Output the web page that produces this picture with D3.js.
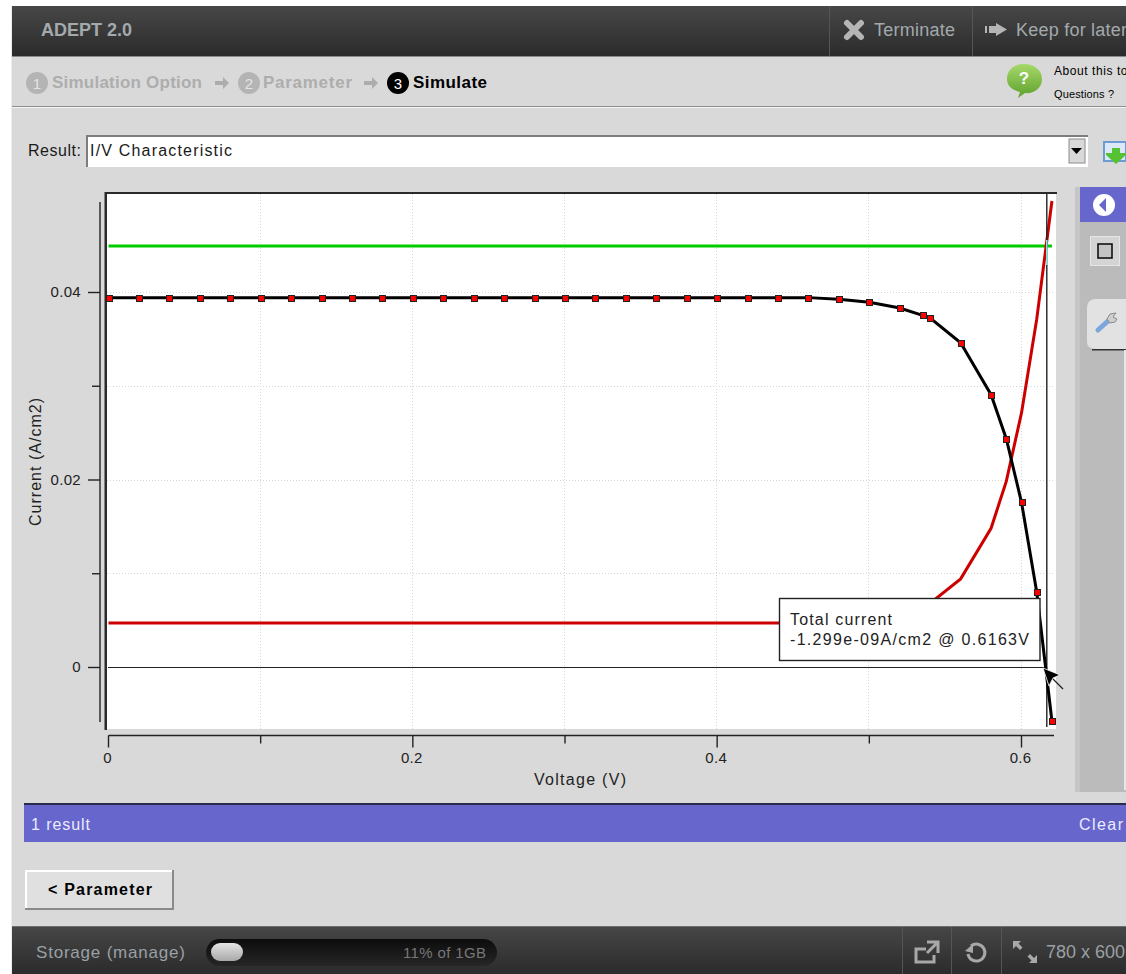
<!DOCTYPE html>
<html>
<head>
<meta charset="utf-8">
<script src="https://d3js.org/d3.v7.min.js"></script>
<style>
  html, body { margin: 0; padding: 0; background: white; }
  svg { display: block; }
  text { font-family: "Liberation Sans", Arial, sans-serif; }
</style>
</head>
<body>
<svg width="1126" height="974"></svg>
<script>
// values
var voltage = [0, 0.02, 0.04, 0.06, 0.08, 0.1, 0.12, 0.14, 0.16, 0.18, 0.2, 0.22, 0.24, 0.26, 0.28, 0.3,
  0.32, 0.34, 0.36, 0.38, 0.4, 0.42, 0.44, 0.46, 0.48, 0.5, 0.52, 0.535, 0.54, 0.56, 0.58, 0.59, 0.6, 0.61, 0.62];
var totalCurrent = [0.0394, 0.0394, 0.0394, 0.0394, 0.0394, 0.0394, 0.0394, 0.0394, 0.0394, 0.0394, 0.0394, 0.0394,
  0.0394, 0.0394, 0.0394, 0.0394, 0.0394, 0.0394, 0.0394, 0.0394, 0.0394, 0.0394, 0.0394, 0.0394, 0.03922, 0.0389,
  0.03829, 0.03751, 0.03723, 0.03459, 0.02905, 0.02435, 0.01757, 0.008, -0.00576];
var recombV = [0, 0.46, 0.5, 0.52, 0.54, 0.56, 0.58, 0.59, 0.6, 0.61, 0.62];
var recombI = [0.0047, 0.0047, 0.0050, 0.0055, 0.0068, 0.0094, 0.0148, 0.0198, 0.0271, 0.0371, 0.0497];
var generationV = [0, 0.62];
var generationI = [0.0449, 0.0449];
var xMajor = [0, 0.2, 0.4, 0.6];
var xMinor = [0.1, 0.3, 0.5];
var yMajor = [0, 0.02, 0.04];
var yMinor = [0.01, 0.03];
var cursorV = 0.6163;
var tipLines = ["Total current", "-1.299e-09A/cm2 @ 0.6163V"];
var steps = ["Simulation Option", "Parameter", "Simulate"];

var svg = d3.select("svg");
var x = d3.scaleLinear().domain([0, 0.6]).range([108.5, 1021.5]);
var y = d3.scaleLinear().domain([0, 0.04]).range([667, 292]);

var defs = svg.append("defs");
function gradient(id, top, bottom) {
  var g = defs.append("linearGradient").attr("id", id).attr("x1", 0).attr("y1", 0).attr("x2", 0).attr("y2", 1);
  g.append("stop").attr("offset", 0).attr("stop-color", top);
  g.append("stop").attr("offset", 1).attr("stop-color", bottom);
}
gradient("bar", "#474747", "#2b2b2b");
gradient("pill", "#0c0c0c", "#262626");
gradient("knob", "#e4e4e4", "#a8a8a8");
gradient("bubble", "#a6d96a", "#5ea02c");

function rect(x0, y0, w, h, fill) {
  return svg.append("rect").attr("x", x0).attr("y", y0).attr("width", w).attr("height", h).attr("fill", fill);
}
function label(s, x0, y0, size, fill, weight) {
  return svg.append("text").attr("x", x0).attr("y", y0).style("font-size", size + "px")
    .attr("fill", fill).attr("font-weight", weight || "normal").text(s);
}
function line(x1, y1, x2, y2, color, w) {
  return svg.append("line").attr("x1", x1).attr("y1", y1).attr("x2", x2).attr("y2", y2)
    .attr("stroke", color).attr("stroke-width", w);
}

// page
rect(11, 6, 1115, 968, "#d9d9d9");
rect(11, 6, 1, 968, "#ececec");

// top bar
rect(12, 6, 1114, 50, "url(#bar)");
rect(12, 56, 1114, 1, "#8a8a8a");
label("ADEPT 2.0", 41, 36, 18, "#a3a9ad", "bold");
line(829.5, 6, 829.5, 56, "#555", 1);
line(972.5, 6, 972.5, 56, "#555", 1);
svg.append("path").attr("d", "M846,24 L860,38 M860,24 L846,38 M846,24").attr("transform", "translate(1,-1)")
  .attr("stroke", "#b5b5b5").attr("stroke-width", 6).attr("stroke-linecap", "round");
label("Terminate", 874, 36, 18, "#a3a9ad").attr("textLength", 81);
svg.append("path").attr("d", "M985,26 h2 v7 h-2 z M989,26 h7 v-3 l11,6.5 l-11,6.5 v-3 h-7 z").attr("fill", "#b5b5b5");
label("Keep for later", 1016, 36, 18, "#a3a9ad").attr("textLength", 111);

// step bar
var stepX = [37, 249, 398];
var stepText = [52, 263, 413];
steps.forEach(function(s, i) {
  var on = i == 2;
  svg.append("circle").attr("cx", stepX[i]).attr("cy", 83).attr("r", 11).attr("fill", on ? "#000" : "#b4b4b4");
  label(i + 1, stepX[i], 88.5, 15, on ? "#fff" : "#e4e4e4").attr("text-anchor", "middle");
  label(s, stepText[i], 88, 17, on ? "#000" : "#adadad", "bold").attr("textLength", [150, 89, 74][i]);
});
[222, 371].forEach(function(a) {
  svg.append("path").attr("d", "M" + (a - 7) + ",81 h8 v-4 l6,6 l-6,6 v-4 h-8 z").attr("fill", "#adadad");
});
svg.append("path").attr("d", "M1007,79 C1007,69 1015,64 1024,64 C1034,64 1042,70 1042,79 C1042,89 1033,94 1025,93 L1018,98 L1020,92 C1012,90 1007,86 1007,79 Z")
  .attr("fill", "url(#bubble)");
label("?", 1024, 84, 17, "#fff", "bold").attr("text-anchor", "middle");
label("About this tool", 1054, 75, 12, "#000").attr("textLength", 84);
label("Questions ?", 1054, 98, 11, "#000").attr("textLength", 60);
rect(12, 106, 1114, 1, "#8f8f8f");
rect(12, 107, 1114, 1, "#f4f4f4");

// result selector
label("Result:", 28, 156, 16, "#1a1a1a").attr("textLength", 53);
rect(86, 135, 1002, 32, "#fff");
rect(86, 135, 1002, 2, "#7d7d7d");
rect(86, 135, 2, 32, "#7d7d7d");
label("I/V Characteristic", 90, 156, 16, "#1a1a1a").attr("textLength", 142);
rect(1069, 139, 16, 24, "#d9d9d9").attr("stroke", "#8c8c8c").attr("stroke-width", 1);
svg.append("path").attr("d", "M1071,148 h11 l-5.5,6 z").attr("fill", "#000");
rect(1104, 142, 22, 19, "#dbe8f8").attr("stroke", "#6d9bd3").attr("stroke-width", 2);
svg.append("path").attr("d", "M1112,148 h8 v5 h6 v2 l-10,9 l-10,-9 v-2 h6 z").attr("fill", "#55c234");

// plot area
rect(106, 194, 950, 535, "#fff");

var grid = svg.append("g").attr("stroke", "#d6d6d6").attr("stroke-width", 1).attr("stroke-dasharray", "1,2");
grid.selectAll("line.v").data(xMajor.concat(xMinor).filter(function(d) { return d > 0; })).enter().append("line")
  .attr("x1", function(d) { return Math.round(x(d)) - 0.5; })
  .attr("x2", function(d) { return Math.round(x(d)) - 0.5; })
  .attr("y1", 194).attr("y2", 729);
grid.selectAll("line.h").data(yMajor.concat(yMinor).filter(function(d) { return d > 0; })).enter().append("line")
  .attr("x1", 107).attr("x2", 1055)
  .attr("y1", function(d) { return Math.round(y(d)) + 0.5; })
  .attr("y2", function(d) { return Math.round(y(d)) + 0.5; });

rect(105, 192, 952, 2, "#2a2a2a");
rect(104.5, 192, 2.5, 538, "#2a2a2a");

// axes
var xAxisMajor = svg.append("g").attr("transform", "translate(0,735.5)")
  .call(d3.axisBottom(x).offset(0).tickValues(xMajor).tickSize(12).tickPadding(5).tickFormat(d3.format("~g")));
var xAxisMinor = svg.append("g").attr("transform", "translate(0,735.5)")
  .call(d3.axisBottom(x).offset(0).tickValues(xMinor).tickSize(8).tickFormat(""));
var yAxisMajor = svg.append("g").attr("transform", "translate(100,0)")
  .call(d3.axisLeft(y).tickValues(yMajor).tickSize(12).tickPadding(7).tickFormat(d3.format("~g")));
var yAxisMinor = svg.append("g").attr("transform", "translate(100,0)")
  .call(d3.axisLeft(y).tickValues(yMinor).tickSize(8).tickFormat(""));
xAxisMajor.select(".domain").attr("d", "M108.5,0 H1054");
xAxisMinor.select(".domain").remove();
yAxisMajor.select(".domain").attr("d", "M0,202 V722");
yAxisMinor.select(".domain").remove();
svg.selectAll("g .domain, g .tick line").attr("stroke", "#222").attr("stroke-width", 1.4);
svg.selectAll("g .tick text").style("font-size", "15px").attr("fill", "#222")
  .style("letter-spacing", "0.3px")
  .style("font-family", '"Liberation Sans", Arial, sans-serif');
xAxisMajor.selectAll(".tick text").attr("dx", -1);

label("Voltage (V)", 580, 785, 16, "#222").attr("text-anchor", "middle").attr("textLength", 92);
svg.append("text").attr("transform", "translate(41,462) rotate(-90)").attr("text-anchor", "middle")
  .style("font-size", "16px").attr("fill", "#222").attr("textLength", 128).text("Current (A/cm2)");

// curves
var lineGen = d3.line().x(function(d) { return x(d[0]); }).y(function(d) { return y(d[1]); });
svg.append("path").datum(d3.zip(generationV, generationI)).attr("d", lineGen)
  .attr("fill", "none").attr("stroke", "#00cc00").attr("stroke-width", 3);
svg.append("path").datum(d3.zip(recombV, recombI)).attr("d", lineGen)
  .attr("fill", "none").attr("stroke", "#cc0000").attr("stroke-width", 3);

// crosshair
line(108, y(0) + 0.5, x(cursorV) + 0.5, y(0) + 0.5, "#222", 1.2);
line(x(cursorV) + 0.5, 194, x(cursorV) + 0.5, 727, "#222", 1.4);
line(x(cursorV) + 0.5, y(0.0449) - 6, x(cursorV) + 0.5, y(0.0449) + 19, "#8ff", 1.4);

svg.append("path").datum(d3.zip(voltage, totalCurrent)).attr("d", lineGen)
  .attr("fill", "none").attr("stroke", "#000").attr("stroke-width", 3);
svg.selectAll("rect.pt").data(d3.zip(voltage, totalCurrent)).enter().append("rect").attr("class", "pt")
  .attr("x", function(d) { return Math.round(x(d[0])) - 2.5; })
  .attr("y", function(d) { return Math.round(y(d[1])) - 2.5; })
  .attr("width", 6).attr("height", 6)
  .attr("fill", "#f00").attr("stroke", "#222").attr("stroke-width", 1);

// tooltip
rect(779.5, 598.5, 260.5, 62, "#fff").attr("stroke", "#222").attr("stroke-width", 1.4);
tipLines.forEach(function(t, i) {
  label(t, 790, 625 + i * 20, 16, "#222").attr("textLength", [102, 239][i]);
});

// mouse pointer
line(1051, 677, 1063, 689, "#222", 1.2);
svg.append("path").attr("d", "M1043,668 L1060,675 L1053,678 L1049,686 Z").attr("fill", "#000")
  .attr("stroke", "#fff").attr("stroke-width", 0.8);

// right panel
rect(1075, 187, 5, 605, "#c6c6c6");
rect(1080, 187, 46, 605, "#bbb");
rect(1080, 187, 46, 35, "#6666cc");
svg.append("circle").attr("cx", 1104).attr("cy", 205).attr("r", 11).attr("fill", "#fff");
svg.append("path").attr("d", "M1099,205 l7,-7 v14 z").attr("fill", "#6666cc");
rect(1090.5, 236.5, 29, 29, "#d4d4d4").attr("stroke", "#e6e6e6");
rect(1098, 244, 14, 14, "#c4c4c4").attr("stroke", "#111").attr("stroke-width", 1.6);
svg.append("path").attr("d", "M1126,299 H1096 Q1087,299 1087,308 V342 Q1087,349 1096,349 H1126 Z").attr("fill", "#e2e2e2");
rect(1092, 349, 34, 1.5, "#333");
svg.append("path").attr("d", "M1098,330 L1108,321").attr("stroke", "#7ba7dc").attr("stroke-width", 5).attr("stroke-linecap", "round");
svg.append("path").attr("d", "M1107,319 L1110,314 L1116,313 L1113,317 L1117,319 L1115,322 L1110,323 Z").attr("fill", "#cfcfcf").attr("stroke", "#8a8a8a");
rect(1124, 350, 2, 440, "#e6e6e6");

// results bar
rect(24, 803, 1102, 39, "#6666cc");
rect(24, 803, 1102, 2, "#2b2b4d");
label("1 result", 31, 830, 16, "#ececff").attr("textLength", 59);
label("Clear", 1079, 830, 16, "#ececff").attr("textLength", 44);

// back button
rect(25, 871, 148, 38, "#e0e0e0");
rect(25, 870, 149, 2, "#fff");
rect(25, 870, 2, 40, "#fff");
rect(25, 908, 149, 2, "#8a8a8a");
rect(172, 870, 2, 40, "#8a8a8a");
label("< Parameter", 48, 895, 16, "#000", "bold").attr("textLength", 104);

// bottom bar
rect(12, 926, 1114, 48, "url(#bar)");
rect(12, 926, 1114, 1, "#6e6e6e");
label("Storage (manage)", 36, 958, 17, "#9aa0a4").attr("textLength", 149);
rect(206, 939, 291, 27, "url(#pill)").attr("rx", 13.5);
rect(211, 943, 32, 18, "url(#knob)").attr("rx", 9);
label("11% of 1GB", 403, 958, 15, "#777").attr("textLength", 83);
[902.5, 951.5, 1001.5].forEach(function(d) { line(d, 927, d, 974, "#555", 1); });
svg.append("path").attr("d", "M926,949 H916 V962 H934 V955 M927,942 H938 V953 M938,942 L927,953")
  .attr("fill", "none").attr("stroke", "#a8a8a8").attr("stroke-width", 3);
svg.append("path").attr("d", "M971,946 A8.5,8.5 0 1 1 968,954").attr("fill", "none").attr("stroke", "#a8a8a8").attr("stroke-width", 3);
svg.append("path").attr("d", "M965,951 l8,-7 v9 z").attr("fill", "#a8a8a8");
svg.append("path").attr("d", "M1013,941 h8 l-2.5,2.5 l4,4 l-2.5,2.5 l-4,-4 l-3,3 z M1037,963 h-8 l2.5,-2.5 l-4,-4 l2.5,-2.5 l4,4 l3,-3 z").attr("fill", "#a8a8a8");
label("780 x 600", 1046, 958, 18, "#9aa0a4");
</script>
</body>
</html>
